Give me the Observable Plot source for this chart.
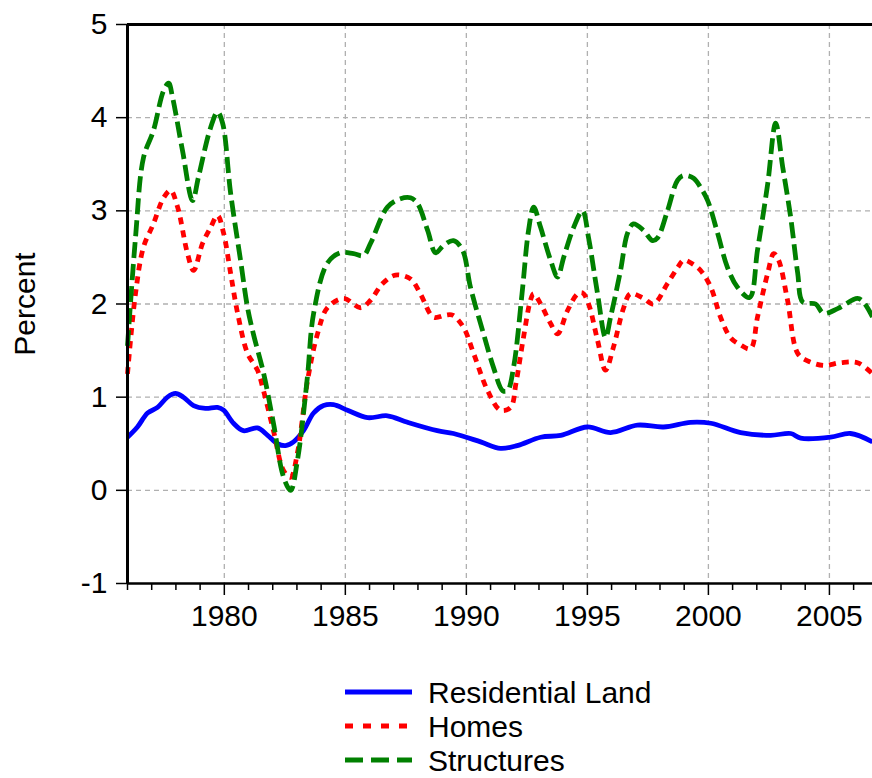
<!DOCTYPE html>
<html>
<head>
<meta charset="utf-8">
<script src="https://cdn.jsdelivr.net/npm/d3@7"></script>
<script src="https://cdn.jsdelivr.net/npm/@observablehq/plot@0.6"></script>
<style>
  html, body { margin: 0; padding: 0; background: #fff; }
  #chart { width: 872px; font-family: "Liberation Sans", Arial, Helvetica, sans-serif; }
  svg { display: block; }
</style>
</head>
<body>
<div id="chart"></div>
<script>
// ---- Data ----
const landYears = [1976.0,1976.41,1976.83,1977.24,1977.65,1977.98,1978.31,1978.73,1979.22,1979.72,1979.97,1980.38,1980.79,1981.37,1981.79,1982.2,1982.53,1982.86,1983.27,1983.69,1984.1,1984.51,1985.09,1985.92,1986.74,1987.57,1988.8,1989.47,1990.59,1991.41,1992.1,1993.07,1993.9,1995.0,1995.96,1997.07,1998.15,1999.26,2000.1,2001.33,2002.57,2003.4,2003.81,2005.05,2005.87,2006.78];
const landValues = [0.57,0.68,0.83,0.89,1.0,1.04,1.0,0.91,0.88,0.89,0.86,0.72,0.64,0.67,0.59,0.5,0.48,0.52,0.64,0.83,0.91,0.92,0.86,0.78,0.80,0.73,0.64,0.61,0.52,0.45,0.48,0.57,0.59,0.68,0.62,0.70,0.68,0.73,0.72,0.62,0.59,0.61,0.56,0.57,0.61,0.52];

const homesYears = [1976.0,1976.33,1976.66,1977.07,1977.49,1977.78,1978.07,1978.48,1978.73,1979.1,1979.43,1979.72,1979.97,1980.26,1980.55,1980.96,1981.37,1981.62,1982.03,1982.45,1982.74,1983.02,1983.44,1983.85,1984.26,1984.93,1985.63,1986.04,1986.54,1987.07,1987.69,1988.1,1988.64,1989.14,1989.43,1989.88,1990.3,1990.88,1991.41,1991.83,1992.05,1992.36,1992.65,1992.78,1993.07,1993.48,1993.77,1994.18,1994.6,1994.8,1995.05,1995.42,1995.75,1996.08,1996.5,1996.78,1997.32,1997.73,1998.31,1998.73,1998.98,1999.4,1999.68,2000.1,2000.5,2000.91,2001.33,2001.74,2002.03,2002.45,2002.7,2002.9,2003.27,2003.69,2004.1,2004.76,2005.46,2006.16,2006.78];
const homesValues = [1.25,2.11,2.61,2.86,3.14,3.22,3.04,2.54,2.36,2.65,2.82,2.95,2.76,2.33,1.9,1.47,1.29,1.07,0.64,0.21,0.14,0.4,1.18,1.68,1.96,2.06,1.96,2.04,2.22,2.31,2.27,2.11,1.86,1.88,1.88,1.75,1.47,1.07,0.86,0.89,1.15,1.64,2.04,2.11,2.0,1.79,1.68,1.93,2.11,2.12,2.0,1.61,1.29,1.54,1.96,2.11,2.06,2.0,2.22,2.39,2.47,2.42,2.36,2.18,1.86,1.64,1.56,1.52,1.86,2.33,2.54,2.47,2.04,1.47,1.39,1.34,1.37,1.37,1.25];

const structYears = [1976.0,1976.33,1976.66,1977.07,1977.49,1977.7,1977.86,1978.27,1978.69,1978.93,1979.43,1979.72,1979.93,1980.26,1980.67,1980.96,1981.2,1981.62,1982.03,1982.45,1982.74,1983.02,1983.43,1983.69,1984.26,1984.8,1985.34,1985.75,1986.04,1986.74,1987.28,1987.69,1987.98,1988.4,1988.73,1989.06,1989.47,1989.84,1990.17,1990.71,1991.12,1991.5,1991.7,1991.95,1992.3,1992.57,1992.78,1993.07,1993.48,1993.77,1994.02,1994.43,1994.8,1995.05,1995.42,1995.75,1995.96,1996.37,1996.66,1996.9,1997.32,1997.69,1997.9,1998.31,1998.73,1998.98,1999.39,1999.68,1999.97,2000.38,2000.79,2001.2,2001.7,2002.03,2002.45,2002.78,2003.07,2003.4,2003.69,2003.9,2004.43,2004.76,2005.34,2006.16,2006.41,2006.78];
const structValues = [1.55,2.71,3.57,3.86,4.29,4.37,4.22,3.65,3.11,3.36,3.89,4.06,3.94,3.19,2.47,1.96,1.68,1.26,0.72,0.14,0.0,0.32,1.21,1.90,2.44,2.55,2.54,2.52,2.65,3.04,3.13,3.14,3.08,2.79,2.55,2.63,2.68,2.58,2.18,1.68,1.32,1.07,1.07,1.32,2.11,2.79,3.04,2.82,2.47,2.29,2.5,2.82,3.0,2.71,2.11,1.64,1.86,2.36,2.76,2.86,2.79,2.68,2.71,3.0,3.33,3.38,3.35,3.25,3.11,2.76,2.39,2.18,2.07,2.58,3.29,3.94,3.47,2.93,2.33,2.02,2.0,1.9,1.95,2.06,2.02,1.86];

const seriesNames = ["Residential Land", "Homes", "Structures"];
const yTicks = [-1, 0, 1, 2, 3, 4, 5];
const xMajorTicks = [1980, 1985, 1990, 1995, 2000, 2005];
const xMinorTicks = [1976,1977,1978,1979,1981,1982,1983,1984,1986,1987,1988,1989,1991,1992,1993,1994,1996,1997,1998,1999,2001,2002,2003,2004,2006];
const yLabel = "Percent";

// ---- Styles ----
const colors = {"Residential Land": "#0000ff", "Homes": "#ff0000", "Structures": "#008000"};
const dashes = {"Residential Land": null, "Homes": "7,6", "Structures": "16,6"};
const widths = {"Residential Land": 4.8, "Homes": 4.8, "Structures": 4.8};

const toRows = (name, xs, ys) => xs.map((x, i) => ({series: name, year: x, value: ys[i]}));
const land = toRows(seriesNames[0], landYears, landValues);
const homes = toRows(seriesNames[1], homesYears, homesValues);
const structs = toRows(seriesNames[2], structYears, structValues);

const gridStyle = {stroke: "#b0b0b0", strokeWidth: 1.3, strokeDasharray: "5,4"};
const FONT = "\"Liberation Sans\", Arial, Helvetica, sans-serif";

const lineMark = (data, name) => Plot.line(data, {
  x: "year", y: "value", stroke: colors[name], strokeWidth: widths[name],
  strokeDasharray: dashes[name], curve: "catmull-rom", strokeLinecap: "butt", strokeLinejoin: "round"
});

const plot = Plot.plot({
  width: 872,
  height: 650,
  marginLeft: 127,
  marginRight: 0,
  marginTop: 24,
  marginBottom: 67,
  style: {fontFamily: FONT, fontSize: "29px", color: "#000", background: "#fff", overflow: "visible"},
  x: {domain: [1976, 2006.78]},
  y: {domain: [-1, 5]},
  marks: [
    Plot.ruleY(yTicks.filter(d => d > -1 && d < 5), gridStyle),
    Plot.ruleX(xMajorTicks, gridStyle),
    lineMark(land, seriesNames[0]),
    lineMark(homes, seriesNames[1]),
    lineMark(structs, seriesNames[2]),
    Plot.ruleY([5], {stroke: "#000", strokeWidth: 3}),
    Plot.ruleY([-1], {stroke: "#000", strokeWidth: 2.5}),
    Plot.ruleX([1976], {stroke: "#000", strokeWidth: 3}),
    Plot.axisY(yTicks, {tickSize: 11, tickPadding: 9, fontSize: 30, tickFormat: d => String(d), label: null, stroke: "#000", strokeWidth: 1.5}),
    Plot.axisX(xMajorTicks, {tickSize: 12, tickPadding: 9, fontSize: 30, tickFormat: d => String(d), label: null, stroke: "#000", strokeWidth: 1.5}),
    Plot.axisX(xMinorTicks, {tickSize: 7, tickFormat: () => "", label: null, stroke: "#000", strokeWidth: 1.5}),
    Plot.text([yLabel], {frameAnchor: "left", dx: -102, rotate: -90, textAnchor: "middle", lineAnchor: "middle", fontSize: 30, text: d => d, fill: "#000"})
  ]
});

const chart = document.getElementById("chart");
chart.appendChild(plot);

// ---- Legend (below the plot) ----
const legend = d3.select(chart).append("svg")
  .attr("width", 872).attr("height", 128)
  .style("font-family", FONT);
seriesNames.forEach((name, i) => {
  const cy = 42 + i * 34;
  legend.append("line")
    .attr("x1", 345).attr("x2", 412).attr("y1", cy).attr("y2", cy)
    .attr("stroke", colors[name]).attr("stroke-width", 4.8)
    .attr("stroke-dasharray", name === "Homes" ? "8,10" : name === "Structures" ? "18,8" : null);
  legend.append("text")
    .attr("x", 428).attr("y", cy).attr("dy", "0.35em")
    .attr("font-size", 30).attr("fill", "#000")
    .text(name);
});
</script>
</body>
</html>
